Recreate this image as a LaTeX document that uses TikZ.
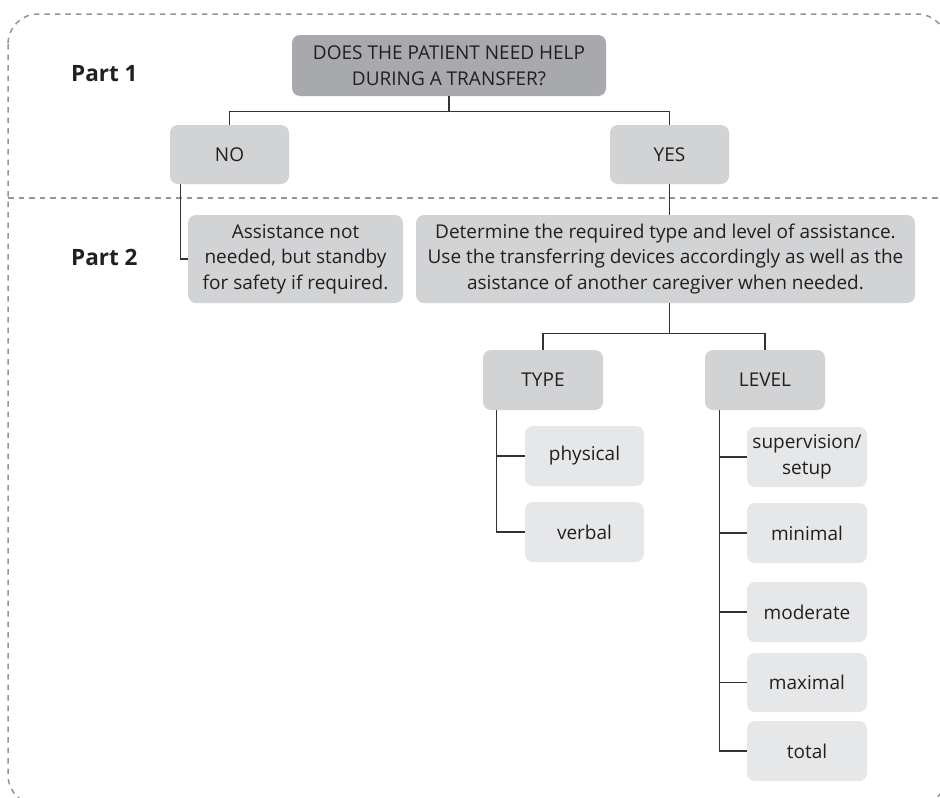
\documentclass[tikz,border=0pt]{standalone}
\usepackage{fontspec}
\setmainfont{Open Sans}
\usetikzlibrary{calc}
\definecolor{txt}{HTML}{231F20}
\definecolor{dark}{HTML}{A7A9AC}
\definecolor{mid}{HTML}{D1D3D4}
\definecolor{light}{HTML}{E6E7E8}
\definecolor{ln}{HTML}{333333}
\definecolor{dsh}{HTML}{939598}
\tikzset{
  box/.style={rounded corners=8pt, inner sep=0pt, align=center, text=txt,
    font=\fontsize{19}{25.5}\selectfont},
  qbox/.style={box, fill=dark},
  mbox/.style={box, fill=mid},
  lbox/.style={box, fill=light},
  conn/.style={draw=ln, line width=1.2pt},
  partlbl/.style={font=\fontsize{22.5}{28}\selectfont\bfseries, text=txt, anchor=west, inner sep=0pt},
}
\begin{document}
\begin{tikzpicture}[x=1pt,y=-1pt]
\useasboundingbox (0,0) rectangle (940,798);
\begin{scope}
\clip (0,0) rectangle (940,798);
\draw[dsh, line width=1.5pt, dash pattern=on 5.5pt off 5pt, rounded corners=30pt]
  (8,14) rectangle (947,805);
\draw[dsh, line width=1.5pt, dash pattern=on 5.5pt off 5pt] (8,198) -- (940,198);
\end{scope}
\node[partlbl] (p1) at (71,74) {Part 1};
\node[partlbl] (p2) at (71,257) {Part 2};

\node[qbox, minimum width=314pt, minimum height=61pt] (q) at (449,65.5)
  {DOES THE PATIENT NEED HELP\\DURING A TRANSFER?};
\node[mbox, minimum width=119pt, minimum height=59pt] (no) at (229.5,154.5) {\raisebox{-3pt}{NO}};
\node[mbox, minimum width=119pt, minimum height=59pt] (yes) at (669.5,154.5) {\raisebox{-3pt}{YES}};
\node[mbox, minimum width=215pt, minimum height=88pt] (assist) at (295.5,259)
  {Assistance not\\needed, but standby\\for safety if required.};
\node[mbox, minimum width=499pt, minimum height=88pt] (det) at (665.5,259)
  {Determine the required type and level of assistance.\\Use the transferring devices accordingly as well as the\\asistance of another caregiver when needed.};
\node[mbox, minimum width=120pt, minimum height=60pt] (type) at (543,380) {TYPE};
\node[mbox, minimum width=120pt, minimum height=60pt] (level) at (765,380) {LEVEL};
\node[lbox, minimum width=119pt, minimum height=60pt] (phys) at (584.5,456) {physical};
\node[lbox, minimum width=119pt, minimum height=60pt] (verb) at (584.5,532) {verbal};
\node[lbox, minimum width=120pt, minimum height=60pt] (sup) at (807,457) {supervision/\\setup};
\node[lbox, minimum width=120pt, minimum height=60pt] (min) at (807,533) {minimal};
\node[lbox, minimum width=120pt, minimum height=60pt] (mod) at (807,612) {moderate};
\node[lbox, minimum width=120pt, minimum height=59pt] (max) at (807,682.5) {maximal};
\node[lbox, minimum width=120pt, minimum height=60pt] (tot) at (807,751) {total};

% part 1 connectors
\coordinate (j1) at ($(q.south)+(0,15)$);
\draw[conn] (q.south) -- (j1);
\draw[conn] (no.north) |- (j1) -| (yes.north);
% no branch
\coordinate (nos) at ($(no.south west)+(11,0)$);
\draw[conn] (nos) |- (assist.west);
% yes branch
\draw[conn] (yes.south) -- (yes.south |- det.north);
% det branch
\coordinate (ds) at (det.south -| yes.south);
\coordinate (j2) at ($(ds)+(0,30)$);
\draw[conn] (ds) -- (j2);
\draw[conn] (type.north) |- (j2) -| (level.north);
% type
\coordinate (ts) at ($(type.south west)+(14,0)$);
\draw[conn] (ts) |- (verb.west);
\draw[conn] (ts |- phys.west) -- (phys.west);
% level
\coordinate (ls) at ($(level.south west)+(15,0)$);
\draw[conn] (ls) |- (tot.west);
\foreach \n in {sup,min,mod,max} \draw[conn] (ls |- \n.west) -- (\n.west);
\end{tikzpicture}
\end{document}
